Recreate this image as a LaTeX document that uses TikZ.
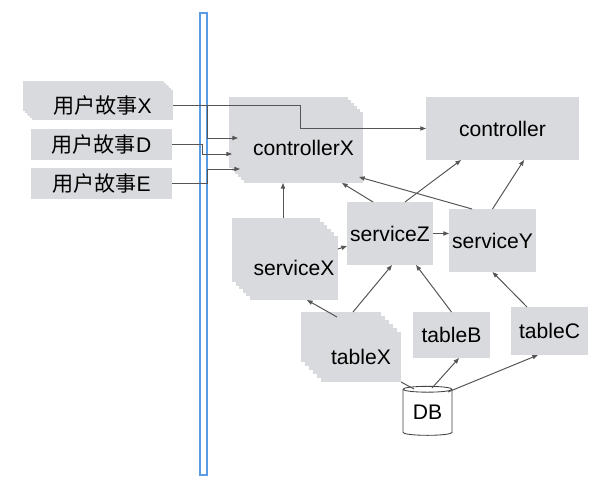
\documentclass[tikz,border=0pt]{standalone}
\usepackage{fontspec}
\setmainfont{Liberation Sans}
\newfontfamily\cjk{Noto Sans CJK SC}
\usetikzlibrary{arrows.meta,calc,shadows,shapes.geometric}
\definecolor{boxgray}{RGB}{217,218,221}
\definecolor{linkgray}{RGB}{85,85,85}
\definecolor{laneblue}{RGB}{90,155,230}

\begin{document}
\begin{tikzpicture}[
        x=0.025cm, y=-0.025cm,
        box/.style={
                fill=boxgray,
                inner sep=0pt,
                outer sep=0pt,
                font=\fontsize{15}{18}\selectfont
            },
        every shadow/.style={
                fill=boxgray,
                draw=none
            },
        stack/.style={
                copy shadow={shadow xshift=-#1, shadow yshift=#1},
                copy shadow={shadow xshift=-2*#1, shadow yshift=2*#1},
                copy shadow={shadow xshift=-3*#1, shadow yshift=3*#1},
                copy shadow={shadow xshift=-4*#1, shadow yshift=4*#1},
                copy shadow={shadow xshift=-5*#1, shadow yshift=5*#1}
            },
        link/.style={
                -{Triangle[length=4pt,width=3pt]},
                draw=linkgray,
                line width=0.7pt
            },
        lane/.style={
                draw=laneblue,
                fill=white,
                line width=0.9pt,
                inner sep=0pt,
                outer sep=0pt
            },
        store/.style={
                cylinder,
                shape border rotate=90,
                aspect=0.2,
                draw=black!75,
                fill=white,
                line width=0.6pt,
                inner sep=0pt,
                outer sep=0pt,
                font=\fontsize{15}{18}\selectfont
            }
    ]
    \useasboundingbox (0, 0) rectangle (590, 492);

    \node[lane, minimum width=0.175cm, minimum height=11.55cm] (lane) at (203.5, 244) {};

    \node[box, stack=1.28pt, minimum width=3.525cm, minimum height=0.75cm] (storyx) at (102.5, 105) {{\cjk 用户故事}X};
    \node[box, minimum width=3.525cm, minimum height=0.775cm] (storyd) at (101.5, 144.5) {{\cjk 用户故事}D};
    \node[box, minimum width=3.525cm, minimum height=0.775cm] (storye) at (101.5, 183.5) {{\cjk 用户故事}E};

    \node[box, stack=2.13pt, minimum width=2.975cm, minimum height=1.775cm] (controllerx) at (303.5, 147.5) {\raisebox{-5pt}{controllerX}};
    \node[box, minimum width=3.825cm, minimum height=1.575cm] (controller) at (502.5, 128.5) {controller};

    \node[box, stack=2.56pt, minimum width=2.2cm, minimum height=1.6cm] (servicex) at (294, 268) {serviceX};
    \node[box, minimum width=2.15cm, minimum height=1.575cm] (servicez) at (390, 233.5) {serviceZ};
    \node[box, minimum width=2.175cm, minimum height=1.575cm] (servicey) at (492.5, 240.5) {serviceY};

    \node[box, stack=2.85pt, minimum width=2cm, minimum height=1.25cm] (tablex) at (361, 357) {tableX};
    \node[box, minimum width=1.925cm, minimum height=1.15cm] (tableb) at (451.5, 335) {tableB};
    \node[box, minimum width=1.925cm, minimum height=1.2cm] (tablec) at (549.5, 331) {tableC};

    \node[store, minimum width=1.225cm, minimum height=1.225cm] (db) at (427.5, 412.5) {DB};

    % user stories
    \draw[link] (storyx.east) -- ++(127, 0) |- (controller.west);
    \draw[link] (storyx.east) -- (storyx.east -| lane.east) |- ($(controllerx.west)+(-6, -9.5)$);
    \draw[link] (storyd.east) -- ++(30, 0) |- ($(controllerx.west)+(-12, 6.5)$);
    \draw[link] (storye.east) -- (storye.east -| lane.east) |- ($(controllerx.west)+(-4, 21.5)$);

    % services
    \draw[link] ($(servicex.north)+(-11, -18)$) -- ($(controllerx.south)+(-20.5, 0)$);
    \draw[link] ($(servicez.north)+(-17, 0)$) -- ($(controllerx.south)+(38.5, 0)$);
    \draw[link] ($(servicez.north)+(15, 0)$) -- ($(controller.south)+(-41.5, 0)$);
    \draw[link] ($(servicey.north)+(-20.5, 0)$) -- ($(controllerx.south east)+(-4, -6)$);
    \draw[link] (servicey.north) -- ($(controller.south)+(21.5, 0)$);
    \draw[link] ($(servicex.east)+(0, -19)$) -- ($(servicez.west)+(0, 12.5)$);
    \draw[link] (servicez.east) -- (servicez.east -| servicey.west);

    % tables
    \draw[link] ($(tablex.north)+(-24, -15)$) -- ($(servicex.south)+(13, 0)$);
    \draw[link] ($(tablex.north)+(-8, -20)$) -- ($(servicez.south)+(2, 0)$);
    \draw[link] (tableb.north) -- ($(servicez.south)+(26, 0)$);
    \draw[link] ($(tablec.north)+(-22.5, 0)$) -- (servicey.south);

    \draw[draw=linkgray, line width=0.7pt] ($(db.center)+(-13.5, -23.5)$) -- (tablex.south east);
    \draw[link] ($(db.center)+(4.5, -24.5)$) -- ($(tableb.south)+(7.5, 0)$);
    \draw[link] ($(db.center)+(20.5, -20.5)$) -- ($(tablec.south)+(-11.5, 0)$);

\end{tikzpicture}
\end{document}
